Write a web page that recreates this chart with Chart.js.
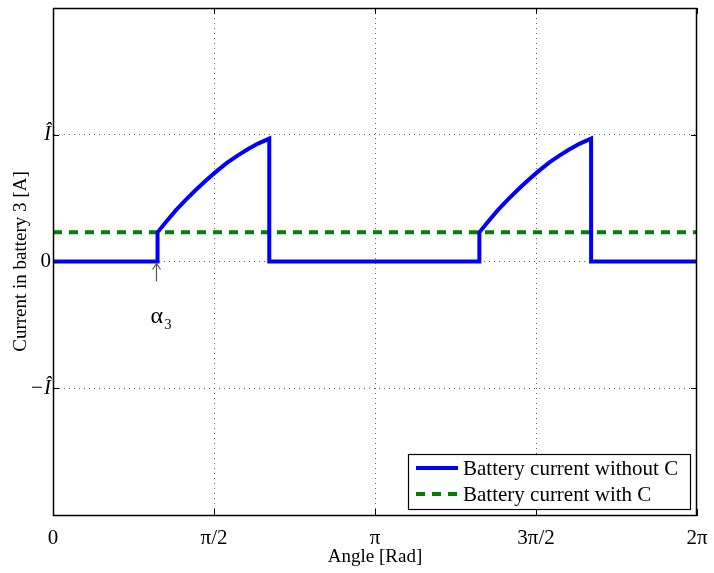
<!DOCTYPE html>
<html>
<head>
<meta charset="utf-8">
<title>Battery 3 current</title>
<script src="https://cdn.jsdelivr.net/npm/chart.js@4.4.1/dist/chart.umd.min.js"></script>
<style>
  html, body { margin: 0; padding: 0; background: #fff; }
  #wrap { width: 714px; height: 573px; }
</style>
</head>
<body>
<div id="wrap"><canvas id="c" width="714" height="573"></canvas></div>
<script>
// Current drawn from battery 3 over one electrical period (units of Î)
const angle = [
  0.00, 1.02, 1.02, 1.10, 1.20, 1.30, 1.40, 1.50, 1.60, 1.70, 1.80, 1.90, 2.00, 2.11, 2.11,
  4.16, 4.16, 4.24, 4.34, 4.44, 4.54, 4.64, 4.74, 4.84, 4.94, 5.04, 5.14, 5.25, 5.25, 6.2832
];
const currentWithoutC = [
  0.00, 0.00, 0.23, 0.31, 0.405, 0.49, 0.57, 0.645, 0.715, 0.78, 0.835, 0.885, 0.93, 0.97, 0.00,
  0.00, 0.23, 0.31, 0.405, 0.49, 0.57, 0.645, 0.715, 0.78, 0.835, 0.885, 0.93, 0.97, 0.00, 0.00
];
const angleWithC = [0.00, 6.2832];
const currentWithC = [0.23, 0.23];

const xTickValues = [0, Math.PI / 2, Math.PI, 3 * Math.PI / 2, 2 * Math.PI];
const xTickLabels = ['0', 'π/2', 'π', '3π/2', '2π'];
const yTickValues = [-1, 0, 1];
const yTickLabels = ['−Î', '0', 'Î'];
const seriesLabels = ['Battery current without C', 'Battery current with C'];
const alphaAngle = angle[1];

const SERIF = "'Liberation Serif', 'Times New Roman', serif";

const toPoints = (xs, ys) => xs.map((x, i) => ({ x: x, y: ys[i] }));

// Full box, inward tick marks, boxed legend and the α3 marker
const decorations = {
  id: 'decorations',
  afterDatasetsDraw(chart) {
    const { ctx, chartArea: a, scales } = chart;
    const x = scales.x, y = scales.y;
    ctx.save();
    ctx.strokeStyle = '#000';
    ctx.lineWidth = 1;
    // tick marks
    ctx.beginPath();
    xTickValues.forEach(v => {
      const px = Math.round(x.getPixelForValue(v)) + 0.5;
      ctx.moveTo(px, a.bottom); ctx.lineTo(px, a.bottom - 6);
      ctx.moveTo(px, a.top); ctx.lineTo(px, a.top + 6);
    });
    yTickValues.forEach(v => {
      const py = Math.round(y.getPixelForValue(v)) + 0.5;
      ctx.moveTo(a.left, py); ctx.lineTo(a.left + 6, py);
      ctx.moveTo(a.right, py); ctx.lineTo(a.right - 6, py);
    });
    ctx.stroke();
    // frame
    ctx.lineWidth = 1.5;
    ctx.strokeRect(Math.round(a.left) + 0.5, Math.round(a.top) + 0.5,
                   Math.round(a.right - a.left) - 1, Math.round(a.bottom - a.top));

    // α3 arrow
    const ax = Math.round(x.getPixelForValue(alphaAngle)) - 1.5;
    const ay = y.getPixelForValue(0) + 2;
    ctx.strokeStyle = '#555';
    ctx.lineWidth = 1.2;
    ctx.beginPath();
    ctx.moveTo(ax, ay + 18); ctx.lineTo(ax, ay);
    ctx.moveTo(ax - 4, ay + 6); ctx.lineTo(ax, ay); ctx.lineTo(ax + 4, ay + 6);
    ctx.stroke();
    ctx.fillStyle = '#000';
    ctx.textBaseline = 'alphabetic';
    ctx.textAlign = 'left';
    ctx.font = '24px ' + SERIF;
    ctx.fillText('α', ax - 6, ay + 59);
    ctx.font = '14px ' + SERIF;
    ctx.fillText('3', ax + 8, ay + 65);

    // legend box
    const bx = 408, by = 454, bw = 282, bh = 55;
    ctx.fillStyle = '#fff';
    ctx.fillRect(bx, by, bw, bh);
    ctx.strokeStyle = '#000';
    ctx.lineWidth = 1.2;
    ctx.strokeRect(bx + 0.5, by + 0.5, bw, bh);
    const rows = [by + 14, by + 40];
    chart.data.datasets.forEach((ds, i) => {
      ctx.strokeStyle = ds.borderColor;
      ctx.lineWidth = 4;
      ctx.setLineDash(ds.borderDash || []);
      ctx.beginPath();
      ctx.moveTo(bx + 8, rows[i]);
      ctx.lineTo(bx + 50, rows[i]);
      ctx.stroke();
      ctx.setLineDash([]);
      ctx.fillStyle = '#000';
      ctx.font = '21px ' + SERIF;
      ctx.textBaseline = 'middle';
      ctx.fillText(ds.label, bx + 55, rows[i] + 1);
    });
    ctx.restore();
  }
};

new Chart(document.getElementById('c'), {
  type: 'line',
  data: {
    datasets: [
      {
        label: seriesLabels[0],
        data: toPoints(angle, currentWithoutC),
        borderColor: '#0000ff',
        borderWidth: 4,
        pointRadius: 0,
        tension: 0,
        fill: false
      },
      {
        label: seriesLabels[1],
        data: toPoints(angleWithC, currentWithC),
        borderColor: '#008000',
        borderWidth: 4,
        borderDash: [9, 7],
        pointRadius: 0,
        tension: 0,
        fill: false
      }
    ]
  },
  options: {
    responsive: false,
    animation: false,
    devicePixelRatio: 1,
    layout: { padding: { top: 8, right: 17, left: 0, bottom: 0 } },
    plugins: {
      legend: { display: false },
      tooltip: { enabled: false }
    },
    scales: {
      x: {
        type: 'linear',
        min: 0,
        max: 2 * Math.PI,
        afterBuildTicks: s => { s.ticks = xTickValues.map(v => ({ value: v })); },
        afterFit: s => { s.height = 58; s.paddingLeft = 0; s.paddingRight = 0; },
        border: { display: true, color: '#000', width: 1, dash: [1, 4] },
        grid: {
          drawTicks: false,
          color: c => (c.tick && (c.tick.value <= 0 || c.tick.value >= 2 * Math.PI - 1e-6)) ? 'rgba(0,0,0,0)' : 'rgba(0,0,0,0.6)',
          lineWidth: 1
        },
        ticks: {
          autoSkip: false,
          maxRotation: 0,
          padding: 11,
          color: '#000',
          font: { family: SERIF, size: 21 },
          callback: (v, i) => xTickLabels[i]
        },
        title: {
          display: true,
          text: 'Angle [Rad]',
          color: '#000',
          font: { family: SERIF, size: 19 },
          padding: { top: 0, bottom: 5 }
        }
      },
      y: {
        type: 'linear',
        min: -2,
        max: 2,
        afterBuildTicks: s => { s.ticks = yTickValues.map(v => ({ value: v })); },
        afterFit: s => { s.width = 53; s.paddingTop = 0; s.paddingBottom = 0; },
        border: { display: true, color: '#000', width: 1, dash: [1, 4] },
        grid: {
          drawTicks: false,
          color: 'rgba(0,0,0,0.6)',
          lineWidth: 1
        },
        ticks: {
          autoSkip: false,
          padding: 2,
          color: '#000',
          font: c => ({ family: SERIF, size: 21, style: (c.tick && c.tick.value !== 0) ? 'italic' : 'normal' }),
          callback: (v, i) => yTickLabels[i]
        },
        title: {
          display: true,
          text: 'Current in battery 3 [A]',
          color: '#000',
          font: { family: SERIF, size: 19 },
          padding: { top: 10, bottom: 0 }
        }
      }
    }
  },
  plugins: [decorations]
});
</script>
</body>
</html>
